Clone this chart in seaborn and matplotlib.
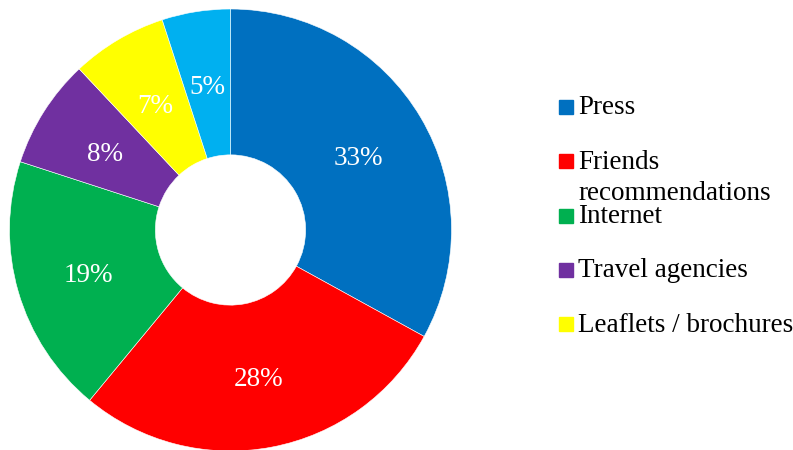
import matplotlib
matplotlib.use("Agg")
import matplotlib.pyplot as plt
import matplotlib.transforms as mtransforms
import seaborn as sns

# Data
sources = ["Press", "Friends\nrecommendations", "Internet", "Travel agencies",
           "Leaflets / brochures", "Other"]
shares = [33, 28, 19, 8, 7, 5]
colors = ["#0070C0", "#FF0000", "#00B050", "#7030A0", "#FFFF00", "#00B0F0"]
legend_count = 5  # the last slice is not in the legend

sns.set_theme(style="white")
plt.rcParams["font.family"] = ["Liberation Serif", "DejaVu Serif"]

fig = plt.figure(figsize=(7.93, 4.5), dpi=100)
W, H = 793, 450
cx, cy, r = 230.5, 230, 221
ax = fig.add_axes([(cx - r) / W, (H - cy - r) / H, 2 * r / W, 2 * r / H])

wedges, texts, autotexts = ax.pie(
    shares, colors=colors, startangle=90, counterclock=False, radius=1,
    autopct="%d%%", pctdistance=0.67,
    wedgeprops=dict(width=0.66, edgecolor="white", linewidth=0.4),
    textprops=dict(color="white", fontsize=19.5))
# nudge the percentages down a few pixels
shift = mtransforms.ScaledTranslation(0, -4 / 100, fig.dpi_scale_trans)
for t in autotexts:
    t.set_transform(t.get_transform() + shift)
ax.set_xlim(-1, 1)
ax.set_ylim(-1, 1)
ax.set_aspect("equal")
ax.axis("off")

# Legend drawn by hand to keep even spacing with the wrapped entry
x_box, y0, step, box = 559, 107, 54.3, 14
for i in range(legend_count):
    y = y0 + i * step
    fig.patches.append(plt.Rectangle((x_box / W, (H - y - box / 2) / H), box / W, box / H,
                                     transform=fig.transFigure, color=colors[i]))
    lines = sources[i].split("\n")
    for j, line in enumerate(lines):
        fig.text(578 / W, (H - y - 1 - j * 31) / H, line, fontsize=19.5, color="black",
                 va="center", ha="left")

fig.savefig("out.png", dpi=100)
